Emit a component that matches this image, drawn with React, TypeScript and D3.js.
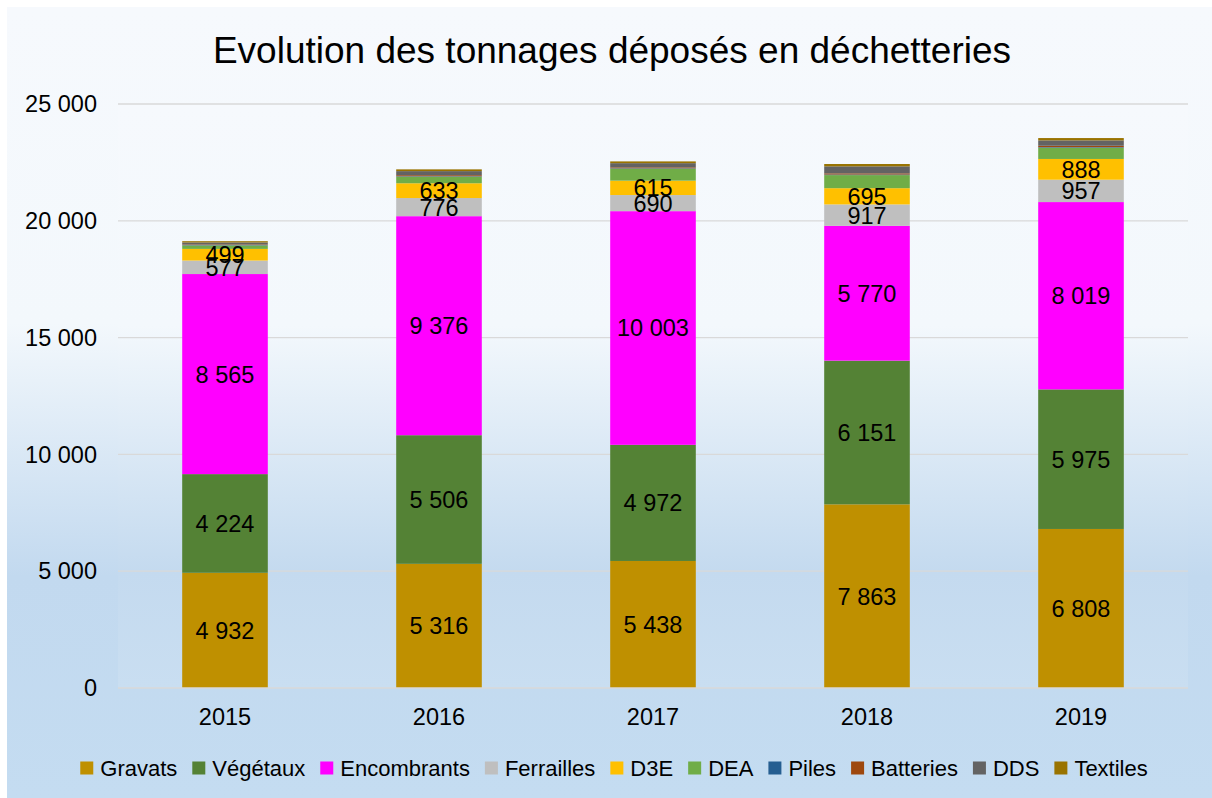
import React, { useEffect, useRef } from "react";
import * as d3 from "d3";

const years = ["2015", "2016", "2017", "2018", "2019"];
const keys = ["Gravats", "Végétaux", "Encombrants", "Ferrailles", "D3E", "DEA", "Piles", "Batteries", "DDS", "Textiles"];
const colors = ["#BF9000", "#548235", "#FF00FF", "#BFBFBF", "#FFC000", "#70AD47", "#255E91", "#9E480E", "#636363", "#997300"];

const gravats = [4932, 5316, 5438, 7863, 6808];
const vegetaux = [4224, 5506, 4972, 6151, 5975];
const encombrants = [8565, 9376, 10003, 5770, 8019];
const ferrailles = [577, 776, 690, 917, 957];
const d3e = [499, 633, 615, 695, 888];
const dea = [150, 280, 510, 560, 480];
const piles = [15, 20, 20, 25, 25];
const batteries = [25, 45, 40, 50, 60];
const dds = [85, 175, 180, 300, 230];
const textiles = [55, 75, 75, 100, 100];

const series = [gravats, vegetaux, encombrants, ferrailles, d3e, dea, piles, batteries, dds, textiles];
const labelled = ["Gravats", "Végétaux", "Encombrants", "Ferrailles", "D3E"];
const yTicks = [0, 5000, 10000, 15000, 20000, 25000];

const W = 1212;
const H = 798;
const FONT = "Liberation Sans, Arial, sans-serif";

export default function App() {
  const svgRef = useRef<SVGSVGElement>(null);

  useEffect(() => {
    const svg = d3.select(svgRef.current);
    svg.selectAll("*").remove();

    const m = { left: 118, right: 1188, top: 104, bottom: 688 };

    const defs = svg.append("defs");
    const g1 = defs.append("linearGradient").attr("id", "bg").attr("x1", 0).attr("y1", 0).attr("x2", 0).attr("y2", 1);
    [[0, "#F6F9FD"], [0.4, "#F3F8FC"], [0.72, "#C2D9EF"], [1, "#C4DCF1"]].forEach(([o, c]) =>
      g1.append("stop").attr("offset", o as number).attr("stop-color", c as string));
    const g2 = defs.append("linearGradient").attr("id", "plotbg").attr("x1", 0).attr("y1", 0).attr("x2", 0).attr("y2", 1);
    [[0, "#F6F9FD"], [0.38, "#F3F8FC"], [0.8, "#C4DAEF"], [1, "#C9DEF1"]].forEach(([o, c]) =>
      g2.append("stop").attr("offset", o as number).attr("stop-color", c as string));

    svg.append("rect").attr("x", 0).attr("y", 0).attr("width", W).attr("height", H).attr("fill", "#ffffff");
    svg.append("rect").attr("x", 7).attr("y", 7).attr("width", W - 7).attr("height", H - 7).attr("fill", "url(#bg)");
    svg.append("rect").attr("x", m.left).attr("y", m.top).attr("width", m.right - m.left)
      .attr("height", m.bottom - m.top).attr("fill", "url(#plotbg)");

    const data = years.map((y, i) => {
      const row: any = { year: y };
      keys.forEach((k, j) => (row[k] = series[j][i]));
      return row;
    });

    const x = d3.scaleBand().domain(years).range([m.left, m.right]).paddingInner(0.6).paddingOuter(0.3);
    const y = d3.scaleLinear().domain([0, 25000]).range([m.bottom, m.top]);
    const fmt = (v: number) => d3.format(",")(v).replace(/,/g, " ");

    // grid
    svg.append("g").selectAll("line").data(yTicks.slice(1)).join("line")
      .attr("x1", m.left).attr("x2", m.right)
      .attr("y1", (d) => y(d)).attr("y2", (d) => y(d))
      .attr("stroke", "#D9D9D9").attr("stroke-width", 1.3);

    svg.append("g").selectAll("text").data(yTicks).join("text")
      .attr("x", 97).attr("y", (d) => y(d)).attr("dy", "0.35em")
      .attr("text-anchor", "end").attr("font-family", FONT).attr("font-size", 23.5).attr("fill", "#000")
      .text((d) => fmt(d));

    const layers = d3.stack().keys(keys)(data);

    svg.append("g").selectAll("g").data(layers).join("g")
      .attr("fill", (_d, i) => colors[i])
      .selectAll("rect").data((d) => d).join("rect")
      .attr("x", (d: any) => x(d.data.year)!)
      .attr("width", x.bandwidth())
      .attr("y", (d) => y(d[1]))
      .attr("height", (d) => y(d[0]) - y(d[1]));

    // axis line
    svg.append("line").attr("x1", m.left).attr("x2", m.right).attr("y1", m.bottom).attr("y2", m.bottom)
      .attr("stroke", "#D9D9D9").attr("stroke-width", 1.3);

    const labelLayers = layers.filter((l) => labelled.includes(l.key));
    svg.append("g").selectAll("g").data(labelLayers).join("g")
      .selectAll("text").data((d) => d).join("text")
      .attr("x", (d: any) => x(d.data.year)! + x.bandwidth() / 2)
      .attr("y", (d) => (y(d[0]) + y(d[1])) / 2)
      .attr("dy", "0.36em").attr("text-anchor", "middle")
      .attr("font-family", FONT).attr("font-size", 23.5).attr("fill", "#000")
      .text((d) => fmt(d[1] - d[0]));

    svg.append("g").selectAll("text").data(years).join("text")
      .attr("x", (d) => x(d)! + x.bandwidth() / 2).attr("y", 725)
      .attr("text-anchor", "middle").attr("font-family", FONT).attr("font-size", 23.5).attr("fill", "#000")
      .text((d) => d);

    svg.append("text").attr("x", 612).attr("y", 63).attr("text-anchor", "middle")
      .attr("font-family", FONT).attr("font-size", 37).attr("fill", "#000")
      .text("Evolution des tonnages déposés en déchetteries");

    // legend
    const legend = svg.append("g");
    let cx = 0;
    const items: { k: string; c: string; x: number }[] = [];
    const measure = legend.append("text").attr("font-family", FONT).attr("font-size", 22);
    keys.forEach((k, i) => {
      measure.text(k);
      const w = (measure.node() as SVGTextElement).getComputedTextLength();
      items.push({ k, c: colors[i], x: cx });
      cx += 13 + 7 + w + 15;
    });
    measure.remove();
    const total = cx - 15;
    const start = 614 - total / 2;
    const it = legend.selectAll("g").data(items).join("g")
      .attr("transform", (d) => `translate(${start + d.x},768)`);
    it.append("rect").attr("x", 0).attr("y", -6.5).attr("width", 13).attr("height", 13).attr("fill", (d) => d.c);
    it.append("text").attr("x", 20).attr("dy", "0.35em")
      .attr("font-family", FONT).attr("font-size", 22).attr("fill", "#000").text((d) => d.k);
  }, []);

  return (
    <svg ref={svgRef} width={W} height={H}
      style={{ position: "absolute", left: 0, top: 0, display: "block" }} />
  );
}
